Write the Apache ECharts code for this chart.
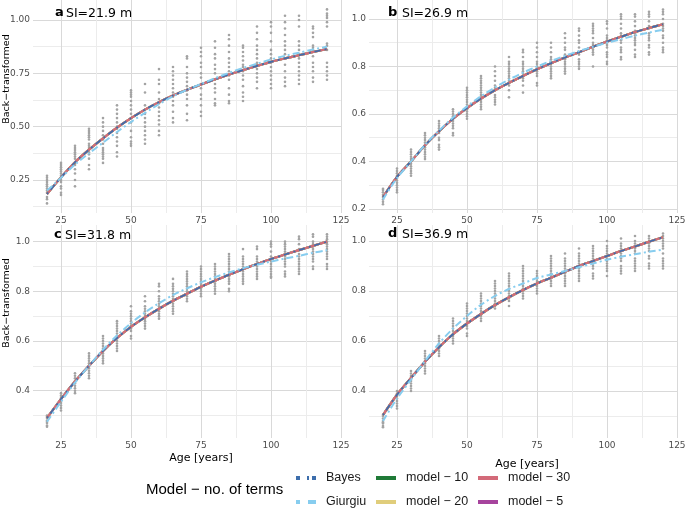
<!DOCTYPE html>
<html><head><meta charset="utf-8">
<script src="https://cdn.jsdelivr.net/npm/echarts@6/dist/echarts.min.js"></script>
<style>html,body{margin:0;padding:0;background:#fff}#c{width:685px;height:509px}</style>
</head><body><div id="c"></div>
<script>
// ---------- data ----------
const ages = [20,25,30,35,40,45,50,55,60,65,70,75,80,85,90,95,100,105,110,115,120];

const panelTitles = ['SI=21.9 m','SI=26.9 m','SI=31.8 m','SI=36.9 m'];
const panelLetters = ['a','b','c','d'];

// tick labels (major) and grid lines (major + minor)
const xLabels = [25,50,75,100,125];
const xGrid = [25,37.5,50,62.5,75,87.5,100,112.5,125];
const yLabelsA = [0.25,0.5,0.75,1.0];
const yGridA = [0.125,0.25,0.375,0.5,0.625,0.75,0.875,1.0];
const yLabelsB = [0.2,0.4,0.6,0.8,1.0];
const yGridB = [0.2,0.3,0.4,0.5,0.6,0.7,0.8,0.9,1.0];
const yLabelsCD = [0.4,0.6,0.8,1.0];
const yGridCD = [0.3,0.4,0.5,0.6,0.7,0.8,0.9,1.0];

// observed points (one list per age)
const obsA = [
[0.14,0.16,0.17,0.19,0.20,0.21,0.22,0.23,0.24,0.25,0.26,0.27],
[0.18,0.19,0.21,0.22,0.24,0.25,0.26,0.27,0.28,0.29,0.30,0.31,0.32,0.33],
[0.22,0.25,0.28,0.30,0.32,0.33,0.35,0.36,0.37,0.38,0.39,0.40,0.41],
[0.30,0.32,0.35,0.37,0.38,0.40,0.41,0.42,0.44,0.45,0.46,0.47,0.48,0.49],
[0.33,0.35,0.36,0.37,0.38,0.39,0.40,0.42,0.44,0.46,0.48,0.50,0.52,0.54],
[0.36,0.38,0.41,0.43,0.45,0.47,0.49,0.50,0.52,0.54,0.56,0.58,0.60],
[0.41,0.42,0.43,0.45,0.48,0.52,0.54,0.56,0.58,0.60,0.62,0.64,0.65,0.66,0.67],
[0.42,0.44,0.46,0.48,0.50,0.52,0.54,0.56,0.58,0.60,0.66,0.70],
[0.46,0.48,0.51,0.53,0.55,0.57,0.59,0.61,0.63,0.66,0.70,0.72,0.77],
[0.52,0.54,0.57,0.60,0.62,0.64,0.66,0.68,0.70,0.72,0.74,0.76,0.78],
[0.53,0.56,0.60,0.63,0.65,0.67,0.69,0.71,0.73,0.75,0.78,0.82,0.83],
[0.55,0.57,0.60,0.63,0.65,0.68,0.70,0.73,0.75,0.78,0.80,0.83,0.85,0.87],
[0.60,0.61,0.63,0.66,0.68,0.70,0.72,0.75,0.77,0.79,0.82,0.84,0.87,0.90],
[0.61,0.62,0.65,0.68,0.72,0.74,0.76,0.78,0.80,0.82,0.85,0.88,0.91,0.93],
[0.62,0.64,0.66,0.69,0.72,0.74,0.76,0.78,0.79,0.81,0.83,0.85,0.87,0.88],
[0.68,0.71,0.73,0.75,0.77,0.79,0.80,0.82,0.84,0.86,0.88,0.91,0.94,0.97],
[0.68,0.70,0.72,0.74,0.76,0.78,0.80,0.82,0.84,0.86,0.90,0.94,0.97,0.99],
[0.69,0.71,0.73,0.76,0.79,0.82,0.84,0.86,0.88,0.90,0.93,0.96,0.99,1.02],
[0.70,0.72,0.74,0.76,0.78,0.80,0.82,0.84,0.86,0.88,0.90,0.97,1.00,1.02],
[0.71,0.73,0.76,0.78,0.80,0.83,0.85,0.86,0.87,0.88,0.92,0.94,0.96,0.97],
[0.72,0.74,0.76,0.78,0.80,0.86,0.88,0.89,0.97,0.99,1.01,1.02,1.03,1.05]
];
const obsB = [
[0.22,0.23,0.24,0.25,0.26,0.27,0.28,0.285],
[0.27,0.28,0.29,0.30,0.31,0.32,0.33,0.34,0.35,0.36,0.37],
[0.34,0.35,0.36,0.37,0.38,0.39,0.40,0.41,0.42,0.43,0.44,0.45],
[0.41,0.42,0.43,0.44,0.45,0.46,0.47,0.48,0.49,0.50,0.51,0.52],
[0.45,0.46,0.47,0.49,0.50,0.52,0.53,0.54,0.55,0.56,0.57],
[0.51,0.52,0.54,0.55,0.56,0.57,0.58,0.59,0.60,0.61,0.62],
[0.58,0.59,0.60,0.61,0.62,0.63,0.64,0.65,0.66,0.67,0.68,0.69,0.70,0.71],
[0.62,0.63,0.64,0.65,0.66,0.67,0.68,0.69,0.70,0.71,0.72,0.73,0.74,0.75,0.76],
[0.64,0.65,0.66,0.67,0.68,0.70,0.71,0.72,0.74,0.76,0.78,0.80],
[0.67,0.70,0.72,0.73,0.74,0.75,0.76,0.77,0.78,0.79,0.80,0.81,0.82,0.84],
[0.69,0.72,0.74,0.75,0.76,0.77,0.78,0.79,0.80,0.81,0.82,0.84,0.86,0.87],
[0.72,0.73,0.76,0.77,0.78,0.79,0.80,0.81,0.82,0.84,0.86,0.88,0.90],
[0.75,0.76,0.77,0.78,0.79,0.80,0.81,0.82,0.83,0.84,0.86,0.88,0.90],
[0.77,0.78,0.79,0.80,0.81,0.82,0.83,0.85,0.87,0.88,0.90,0.92,0.94],
[0.79,0.80,0.81,0.82,0.83,0.85,0.86,0.88,0.90,0.91,0.93,0.95,0.96],
[0.80,0.85,0.86,0.87,0.88,0.89,0.90,0.92,0.94,0.95,0.96,0.97,0.98],
[0.81,0.82,0.84,0.85,0.86,0.88,0.89,0.90,0.91,0.92,0.93,0.96,0.98,0.99],
[0.83,0.84,0.86,0.87,0.88,0.90,0.91,0.93,0.94,0.96,0.98,1.00,1.01,1.02],
[0.84,0.85,0.87,0.89,0.90,0.91,0.92,0.93,0.94,0.95,0.97,0.99,1.01,1.02],
[0.85,0.86,0.88,0.89,0.91,0.92,0.93,0.94,0.96,0.97,0.99,1.01,1.02,1.03],
[0.86,0.87,0.88,0.90,0.92,0.93,0.95,0.96,0.97,0.98,1.00,1.02,1.03,1.04]
];
const obsC = [
[0.255,0.26,0.27,0.275,0.28,0.29,0.295,0.30],
[0.32,0.33,0.34,0.35,0.36,0.37,0.38,0.39],
[0.39,0.40,0.41,0.42,0.43,0.44,0.45,0.46,0.47],
[0.45,0.46,0.47,0.48,0.49,0.50,0.51,0.52,0.53,0.54,0.55],
[0.51,0.52,0.53,0.54,0.55,0.56,0.57,0.58,0.59,0.60,0.61,0.62],
[0.56,0.57,0.58,0.59,0.60,0.61,0.62,0.63,0.64,0.65,0.66,0.67,0.68],
[0.61,0.62,0.64,0.65,0.66,0.67,0.68,0.69,0.70,0.71,0.72,0.74],
[0.65,0.66,0.67,0.68,0.69,0.70,0.71,0.72,0.73,0.74,0.76,0.78],
[0.69,0.70,0.71,0.72,0.73,0.74,0.75,0.76,0.77,0.78,0.80,0.82,0.83],
[0.71,0.72,0.73,0.74,0.75,0.76,0.77,0.78,0.79,0.80,0.81,0.82,0.83,0.85],
[0.76,0.77,0.78,0.79,0.80,0.81,0.82,0.83,0.84,0.85,0.86,0.87,0.88],
[0.78,0.79,0.80,0.81,0.82,0.83,0.84,0.85,0.86,0.87,0.88,0.89,0.90],
[0.79,0.80,0.81,0.82,0.83,0.84,0.85,0.86,0.87,0.88,0.89,0.90,0.91],
[0.80,0.81,0.83,0.84,0.85,0.86,0.87,0.88,0.89,0.90,0.91,0.92,0.93,0.94,0.95],
[0.83,0.84,0.85,0.86,0.87,0.88,0.89,0.90,0.91,0.92,0.93,0.94,0.97],
[0.85,0.86,0.87,0.88,0.89,0.90,0.91,0.92,0.93,0.94,0.97,0.98],
[0.855,0.86,0.87,0.88,0.89,0.90,0.91,0.92,0.93,0.94,0.96,0.98,0.99,1.00],
[0.86,0.87,0.88,0.90,0.91,0.92,0.93,0.94,0.95,0.96,0.97,0.98,0.99,1.00],
[0.87,0.88,0.89,0.90,0.91,0.92,0.93,0.94,0.95,0.97,0.99,1.01,1.02],
[0.89,0.90,0.92,0.93,0.94,0.95,0.96,0.97,0.98,0.99,1.00,1.02,1.03],
[0.89,0.90,0.91,0.93,0.94,0.95,0.96,0.97,0.98,0.99,1.00,1.01,1.02,1.03]
];
const obsD = [
[0.255,0.26,0.27,0.275,0.28,0.29,0.30,0.305],
[0.33,0.34,0.35,0.36,0.37,0.38,0.39,0.40],
[0.40,0.41,0.42,0.43,0.44,0.45,0.46,0.47,0.48],
[0.47,0.48,0.49,0.50,0.51,0.52,0.53,0.54,0.55,0.56],
[0.54,0.55,0.56,0.57,0.58,0.59,0.60,0.61,0.62],
[0.59,0.60,0.61,0.62,0.63,0.64,0.65,0.66,0.67,0.68,0.69],
[0.62,0.63,0.65,0.66,0.67,0.68,0.69,0.70,0.71,0.72,0.73,0.74,0.75],
[0.68,0.69,0.70,0.71,0.72,0.73,0.74,0.75,0.76,0.77,0.78,0.79],
[0.73,0.74,0.75,0.76,0.77,0.78,0.79,0.80,0.81,0.82,0.83,0.84],
[0.74,0.76,0.77,0.78,0.79,0.80,0.81,0.82,0.83,0.84,0.85,0.86,0.87],
[0.77,0.78,0.79,0.80,0.81,0.82,0.83,0.84,0.85,0.86,0.87,0.88,0.89,0.90],
[0.79,0.80,0.81,0.82,0.83,0.84,0.85,0.86,0.87,0.88],
[0.82,0.83,0.84,0.85,0.86,0.87,0.88,0.89,0.90,0.91,0.92,0.93,0.94],
[0.82,0.83,0.84,0.85,0.86,0.87,0.88,0.89,0.90,0.91,0.92,0.93,0.95],
[0.84,0.85,0.86,0.87,0.88,0.89,0.90,0.91,0.92,0.93,0.94,0.95,0.97],
[0.85,0.86,0.87,0.89,0.90,0.91,0.92,0.93,0.94,0.95,0.96,0.97,0.98],
[0.86,0.88,0.89,0.90,0.91,0.92,0.93,0.94,0.95,0.96,0.97,0.98,1.00],
[0.87,0.88,0.89,0.90,0.92,0.93,0.94,0.95,0.96,0.97,0.98,0.99,1.01],
[0.88,0.89,0.90,0.91,0.92,0.93,0.95,0.96,0.97,0.98,0.99,1.00,1.02],
[0.89,0.90,0.91,0.93,0.94,0.96,0.97,0.98,0.99,1.00,1.01,1.02],
[0.89,0.90,0.91,0.92,0.93,0.95,0.97,0.98,0.99,1.00,1.01,1.02,1.03]
];

// fitted curves (model − 5/10/20/30 and Bayes coincide visually)
const fitA = [0.184,0.262,0.333,0.392,0.445,0.495,0.54,0.58,0.615,0.646,0.673,0.698,0.722,0.745,0.765,0.785,0.804,0.82,0.835,0.85,0.864];
const fitB = [0.25,0.335,0.40,0.468,0.527,0.58,0.625,0.665,0.70,0.731,0.76,0.788,0.814,0.838,0.86,0.883,0.905,0.925,0.945,0.962,0.978];
const fitC = [0.29,0.366,0.437,0.50,0.56,0.612,0.657,0.695,0.73,0.762,0.79,0.818,0.843,0.867,0.889,0.91,0.93,0.948,0.966,0.983,1.0];
const fitD = [0.304,0.385,0.452,0.517,0.575,0.627,0.67,0.708,0.744,0.775,0.804,0.83,0.853,0.877,0.90,0.92,0.94,0.96,0.978,0.997,1.015];

const giurA = [0.20,0.26,0.322,0.375,0.425,0.475,0.522,0.565,0.605,0.642,0.673,0.70,0.727,0.752,0.775,0.795,0.815,0.832,0.847,0.862,0.875];
const giurB = [0.24,0.33,0.40,0.47,0.53,0.585,0.632,0.675,0.712,0.745,0.774,0.80,0.823,0.845,0.865,0.883,0.90,0.915,0.93,0.943,0.955];
const giurC = [0.275,0.355,0.432,0.50,0.565,0.622,0.672,0.715,0.752,0.785,0.812,0.836,0.857,0.876,0.893,0.907,0.92,0.932,0.943,0.955,0.965];
const giurD = [0.28,0.37,0.445,0.52,0.59,0.65,0.70,0.745,0.78,0.808,0.83,0.852,0.866,0.88,0.895,0.91,0.925,0.937,0.947,0.957,0.965];

// ---------- layout ----------
const majorCol = '#d9d9d9', minorCol = '#ececec';
const panels = [
  {left:33,  top:0,   yMin:0.095, yMax:1.094, labels:yLabelsA,  gridV:yGridA,  yCols:[minorCol, majorCol], dec:2, obs:obsA, fit:fitA, giur:giurA, topLabelAsText:true},
  {left:369, top:0,   yMin:0.183, yMax:1.080, labels:yLabelsB,  gridV:yGridB,  yCols:[majorCol, minorCol], dec:1, obs:obsB, fit:fitB, giur:giurB, topLabelAsText:true},
  {left:33,  top:225, yMin:0.2095,yMax:1.067, labels:yLabelsCD, gridV:yGridCD, yCols:[minorCol, majorCol], dec:1, obs:obsC, fit:fitC, giur:giurC, topLabelAsText:false},
  {left:369, top:225, yMin:0.212, yMax:1.064, labels:yLabelsCD, gridV:yGridCD, yCols:[minorCol, majorCol], dec:1, obs:obsD, fit:fitD, giur:giurD, topLabelAsText:false}
];
const PW = 308, PH = 213, LABEL_MARGIN = 3;
const tickFont = {fontFamily:'DejaVu Sans', fontSize:9, color:'#4d4d4d'};

const modelStyles = [
  ['model − 5',  '#a6449d'],
  ['model − 10', '#1f7a37'],
  ['model − 20', '#e0cd7b'],
  ['model − 30', '#d36a79']
];
const bayesCol = '#3d6eac', giurCol = '#87cdef';

const grid = [], xAxis = [], yAxis = [], series = [];
panels.forEach((p, i) => {
  const axisLabels = p.topLabelAsText ? p.labels.slice(0, -1) : p.labels;
  grid.push({left:p.left, top:p.top, width:PW, height:PH, containLabel:false, outerBoundsMode:'none'});
  xAxis.push({type:'value', gridIndex:i, min:15, max:125, position:'bottom',
    axisLine:{show:false}, axisTick:{show:false, customValues:xGrid},
    axisLabel:Object.assign({customValues:xLabels, margin:LABEL_MARGIN, hideOverlap:false, showMinLabel:true, showMaxLabel:true}, tickFont),
    splitLine:{show:true, lineStyle:{color:[majorCol, minorCol], width:1}}});
  yAxis.push({type:'value', gridIndex:i, min:p.yMin, max:p.yMax, position:'left',
    axisLine:{show:false}, axisTick:{show:false, customValues:p.gridV},
    axisLabel:Object.assign({customValues:axisLabels, margin:LABEL_MARGIN, hideOverlap:false, showMinLabel:true, showMaxLabel:true,
      formatter: v => Number(v).toFixed(p.dec)}, tickFont),
    splitLine:{show:true, lineStyle:{color:p.yCols, width:1}}});

  const pts = [];
  ages.forEach((a, j) => p.obs[j].forEach(v => pts.push([a, v])));
  series.push({type:'scatter', name:'obs', xAxisIndex:i, yAxisIndex:i, data:pts,
    symbolSize:2.6, itemStyle:{color:'#a3a3a3', opacity:1}, silent:true});

  const fitData = ages.map((a, j) => [a, p.fit[j]]);
  modelStyles.forEach(([name, col]) => {
    series.push({type:'line', name, xAxisIndex:i, yAxisIndex:i, data:fitData,
      showSymbol:false, smooth:0.3, color:col, itemStyle:{color:col, borderWidth:0},
      lineStyle:{color:col, width:2.2}, silent:true});
  });
  series.push({type:'line', name:'Bayes', xAxisIndex:i, yAxisIndex:i, data:fitData,
    showSymbol:false, smooth:0.3, color:bayesCol, itemStyle:{color:bayesCol, borderWidth:0},
    lineStyle:{color:bayesCol, width:1.7, type:[2,4,6,4]}, silent:true});
  series.push({type:'line', name:'Giurgiu', xAxisIndex:i, yAxisIndex:i,
    data:ages.map((a, j) => [a, p.giur[j]]),
    showSymbol:false, smooth:0.3, color:giurCol, itemStyle:{color:giurCol, borderWidth:0},
    lineStyle:{color:giurCol, width:2, type:[7,3,2,3]}, silent:true});
});

const legText = {fontFamily:'Liberation Sans', fontSize:12.5, color:'#1a1a1a', lineHeight:14, padding:[0,0,0,5]};
const legBase = {orient:'vertical', top:471, itemWidth:20, itemHeight:4, itemGap:10,
  itemStyle:{borderWidth:0}, textStyle:legText, selectedMode:false, padding:0};
const legend = [
  Object.assign({}, legBase, {left:296, data:[
    {name:'Bayes', icon:'path://M0,0h4v4h-4z M11,0h2v4h-2z M16,0h4v4h-4z'},
    {name:'Giurgiu', icon:'path://M0,0h4v4h-4z M12,0h8v4h-8z'}]}),
  Object.assign({}, legBase, {left:376, data:[{name:'model − 10', icon:'rect'},{name:'model − 20', icon:'rect'}]}),
  Object.assign({}, legBase, {left:478, data:[{name:'model − 30', icon:'rect'},{name:'model − 5', icon:'rect'}]})
];

const graphic = [];
const labelPos = [[55,13,66,14],[388,13,402,14],[54,235,65,236],[388,234,402,235]];
panels.forEach((p, i) => {
  const [lx, ly, tx, ty] = labelPos[i];
  graphic.push({type:'text', x:lx, y:ly, style:{text:panelLetters[i], font:'bold 13px "DejaVu Sans"', fill:'#000', align:'left', verticalAlign:'middle'}});
  graphic.push({type:'text', x:tx, y:ty, style:{text:panelTitles[i], font:'12.5px "DejaVu Sans"', fill:'#000', align:'left', verticalAlign:'middle'}});
});
graphic.push({type:'text', x:7, y:79, rotation:Math.PI/2, style:{text:'Back−transformed', font:'9.5px "DejaVu Sans"', fill:'#000', align:'center', verticalAlign:'middle'}});
graphic.push({type:'text', x:7, y:303, rotation:Math.PI/2, style:{text:'Back−transformed', font:'9.5px "DejaVu Sans"', fill:'#000', align:'center', verticalAlign:'middle'}});
graphic.push({type:'text', x:201, y:458, style:{text:'Age [years]', font:'11px "DejaVu Sans"', fill:'#000', align:'center', verticalAlign:'middle'}});
graphic.push({type:'text', x:527, y:464, style:{text:'Age [years]', font:'11px "DejaVu Sans"', fill:'#000', align:'center', verticalAlign:'middle'}});
graphic.push({type:'text', x:146, y:490, style:{text:'Model − no. of terms', font:'15px "Liberation Sans"', fill:'#000', align:'left', verticalAlign:'middle'}});

const chart = echarts.init(document.getElementById('c'), null, {renderer:'canvas'});
chart.setOption({animation:false, grid, xAxis, yAxis, series, legend, graphic});

// top tick label of the upper panels, placed through the panel's own y scale, on a top layer
panels.forEach((p, i) => {
  if (!p.topLabelAsText) return;
  const v = p.labels[p.labels.length - 1];
  let py = chart.convertToPixel({yAxisIndex:i}, v);
  if (Array.isArray(py)) py = py[1];
  if (!isFinite(py)) py = chart.convertToPixel({gridIndex:i}, [15, v])[1];
  graphic.push({type:'text', z:100, zlevel:1, x:p.left - LABEL_MARGIN, y:py,
    style:{text:v.toFixed(p.dec), font:'9px "DejaVu Sans"', fill:'#4d4d4d', align:'right', verticalAlign:'middle'}});
});
chart.setOption({graphic:{elements:graphic}}, {replaceMerge:['graphic']});
</script></body></html>
